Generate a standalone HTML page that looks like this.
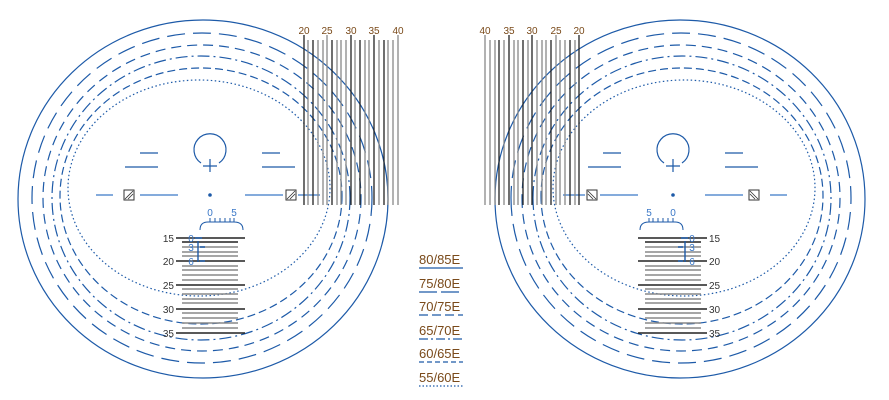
<!DOCTYPE html>
<html><head><meta charset="utf-8"><style>
html,body{margin:0;padding:0;background:#fff;}
svg{display:block;font-family:"Liberation Sans",sans-serif;}
</style></head><body>
<svg width="889" height="400" viewBox="0 0 889 400" xmlns="http://www.w3.org/2000/svg">
<defs>
<g id="ret">
  <g fill="none" stroke="#1d5aa8" stroke-width="1.2">
    <ellipse cx="203" cy="199" rx="185" ry="179"/>
    <ellipse cx="202" cy="198" rx="170" ry="165" stroke-dasharray="18 8"/>
    <ellipse cx="202" cy="198" rx="159" ry="153" stroke-dasharray="10 6"/>
    <ellipse cx="201" cy="198" rx="149" ry="142" stroke-dasharray="12 4 2 4"/>
    <ellipse cx="201" cy="196" rx="141" ry="128" stroke-dasharray="8 4"/>
    <ellipse cx="199" cy="188" rx="131" ry="108" stroke-dasharray="1.5 2.5"/>
    <path d="M201,163 A16,16 0 1 1 219,163"/>
    <path d="M203,166 H217 M210,159 V172"/>
    <path d="M140,153 H158 M125,167 H158 M262,153 H280 M262,167 H295" stroke="#1d5aa8"/>
  </g>
  <g stroke="#5b8fd0" stroke-width="1.5">
    <path d="M96,195 H113 M140,195 H178 M245,195 H283 M298,195 H320"/>
  </g>
  <circle cx="210" cy="195" r="1.8" fill="#1d5aa8"/>
  <g fill="#fff" stroke="#333" stroke-width="1">
    <rect x="124" y="190" width="10" height="10"/>
    <rect x="286" y="190" width="10" height="10"/>
  </g>
  <path d="M125,199 L133,191 M128,199 L133,194 M287,199 L295,191 M290,199 L295,194" stroke="#333" stroke-width="0.8"/>
  <path d="M200,230 Q200,222 208,222 H234 Q243,222 243,230 M210,222 V218 M215,222 V218 M220,222 V218 M225,222 V218 M230,222 V218 M234,222 V218" fill="none" stroke="#1d5aa8" stroke-width="1"/>
  <g id="ladder" stroke-width="1.4">
    <path stroke="#222" d="M176,238 H245 M182,242 H238 M176,261 H245 M176,285 H245 M176,309 H245 M176,333 H245"/>
    <path stroke="#888" d="M182,247 H238 M182,252 H238 M182,256 H238 M182,266 H238 M182,270 H238 M182,275 H238 M182,280 H238 M182,289 H238 M182,294 H238 M182,299 H238 M182,303 H238 M182,313 H238 M182,318 H238 M182,323 H238 M182,328 H238"/>
    <path stroke="#1d5aa8" d="M195,238 H202 M200,247 H205 M200,261 H205 M198,241 V262" stroke-dasharray="none"/>
  </g>
  <g stroke-width="1.3">
    <path stroke="#222" d="M304,35 V205 M351,35 V205 M374,35 V205 M332,40 V205 M313,40 V205 M360,40 V205 M384,40 V205"/>
    <path stroke="#888" d="M308,40 V205 M318,40 V205 M323,40 V205 M327,35 V205 M337,40 V205 M341,40 V205 M346,40 V205 M355,40 V205 M365,40 V205 M369,40 V205 M379,40 V205 M388,40 V205 M393,40 V205 M398,35 V205"/>
  </g>
</g>
</defs>
<use href="#ret"/>
<use href="#ret" transform="translate(883,0) scale(-1,1)"/>
<g font-size="10" fill="#7a4a1a">
  <text x="304" y="34" text-anchor="middle">20</text>
  <text x="327" y="34" text-anchor="middle">25</text>
  <text x="351" y="34" text-anchor="middle">30</text>
  <text x="374" y="34" text-anchor="middle">35</text>
  <text x="398" y="34" text-anchor="middle">40</text>
  <text x="485" y="34" text-anchor="middle">40</text>
  <text x="509" y="34" text-anchor="middle">35</text>
  <text x="532" y="34" text-anchor="middle">30</text>
  <text x="556" y="34" text-anchor="middle">25</text>
  <text x="579" y="34" text-anchor="middle">20</text>
  <g fill="#333" font-size="10">
  <text x="174" y="242" text-anchor="end">15</text>
  <text x="174" y="265" text-anchor="end">20</text>
  <text x="174" y="289" text-anchor="end">25</text>
  <text x="174" y="313" text-anchor="end">30</text>
  <text x="174" y="337" text-anchor="end">35</text>
  <text x="709" y="242">15</text>
  <text x="709" y="265">20</text>
  <text x="709" y="289">25</text>
  <text x="709" y="313">30</text>
  <text x="709" y="337">35</text>
  </g>
  <g fill="#3a78c8" font-size="10">
  <text x="210" y="216" text-anchor="middle">0</text>
  <text x="234" y="216" text-anchor="middle">5</text>
  <text x="673" y="216" text-anchor="middle">0</text>
  <text x="649" y="216" text-anchor="middle">5</text>
  <text x="191" y="242" text-anchor="middle">0</text>
  <text x="191" y="251" text-anchor="middle">3</text>
  <text x="191" y="265" text-anchor="middle">6</text>
  <text x="692" y="242" text-anchor="middle">0</text>
  <text x="692" y="251" text-anchor="middle">3</text>
  <text x="692" y="265" text-anchor="middle">6</text>
  </g>
</g>
<g font-size="13" fill="#7a4a1a">
  <text x="419" y="264">80/85E</text>
  <text x="419" y="288">75/80E</text>
  <text x="419" y="311">70/75E</text>
  <text x="419" y="335">65/70E</text>
  <text x="419" y="358">60/65E</text>
  <text x="419" y="382">55/60E</text>
</g>
<g stroke="#1d5aa8" stroke-width="1.2" fill="none">
  <path d="M419,268 H463"/>
  <path d="M419,292 H463" stroke-dasharray="18 4"/>
  <path d="M419,315 H463" stroke-dasharray="9 4"/>
  <path d="M419,339 H463" stroke-dasharray="9 3 2 3"/>
  <path d="M419,362 H463" stroke-dasharray="5 3"/>
  <path d="M419,386 H463" stroke-dasharray="1.5 2"/>
</g>
</svg>
</body></html>
